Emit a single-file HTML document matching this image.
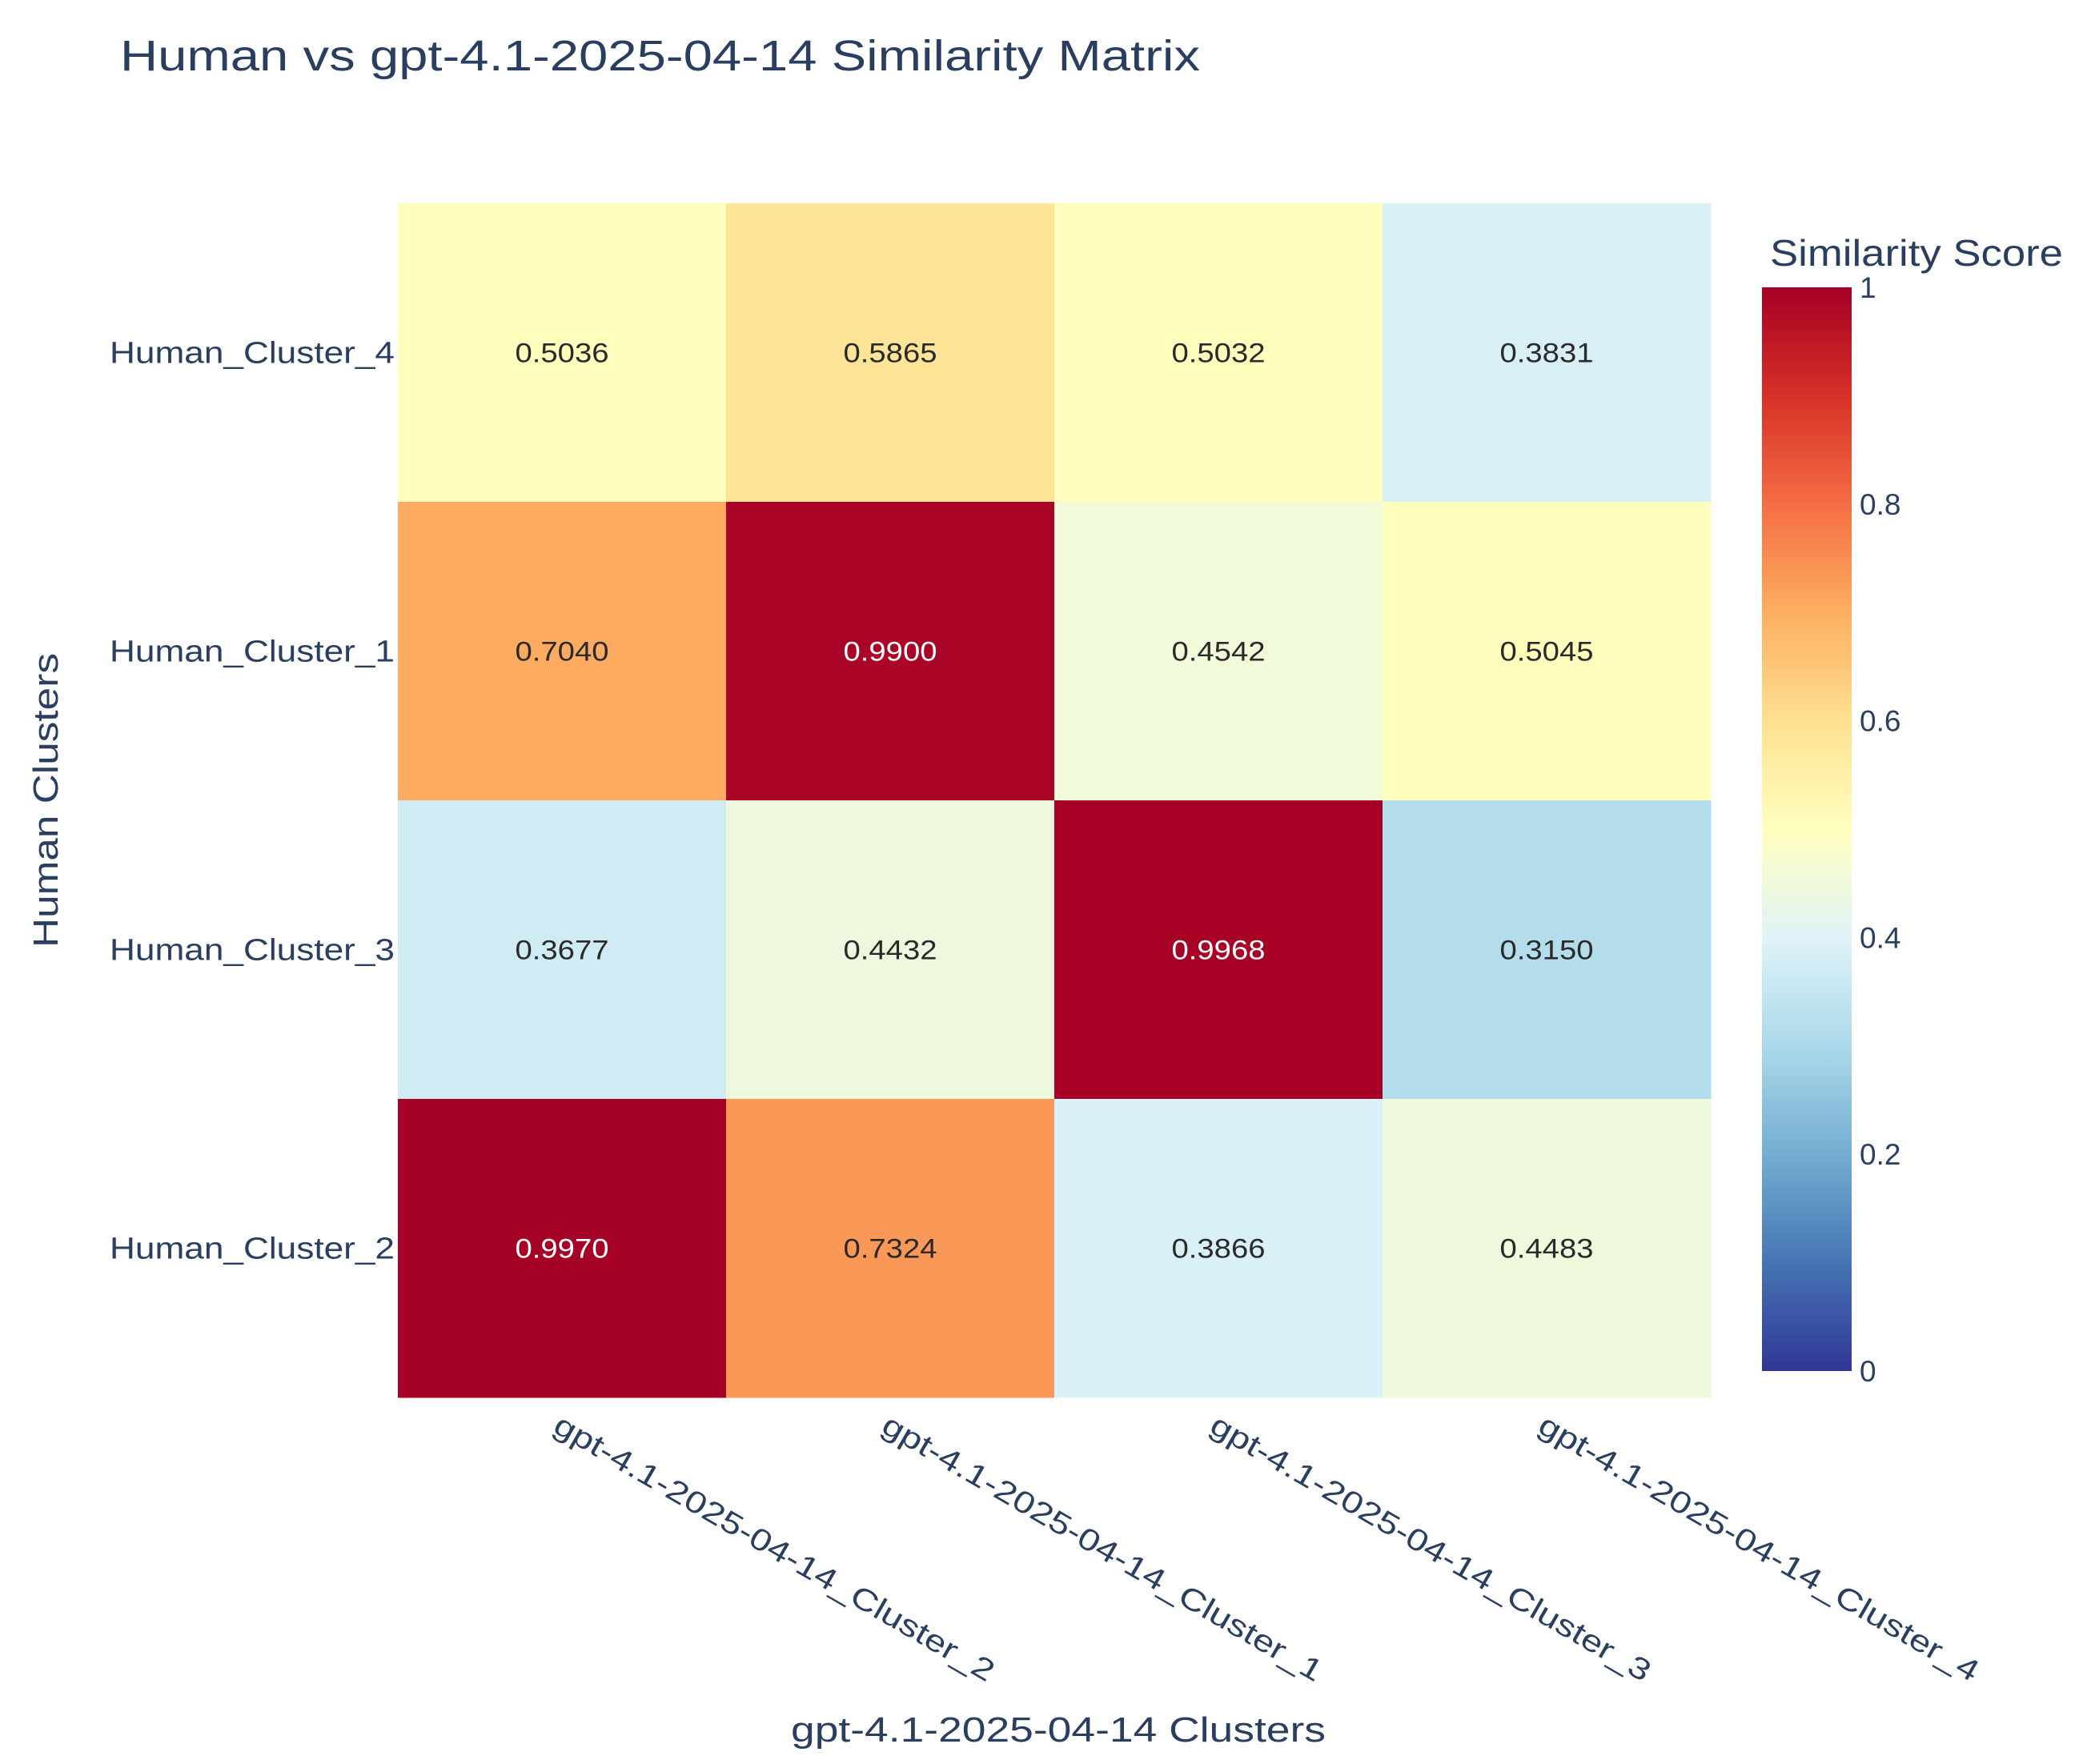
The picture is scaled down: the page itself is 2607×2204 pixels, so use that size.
<!DOCTYPE html>
<html><head><meta charset="utf-8"><style>
html,body{margin:0;padding:0;background:#fff}
svg{display:block;font-family:"Liberation Sans","DejaVu Sans",sans-serif}
</style></head><body>
<svg id="chart" width="2607" height="2204" viewBox="0 0 2607 2204">
<defs>
<linearGradient id="cbgrad" x1="0" y1="1" x2="0" y2="0"></linearGradient>
</defs>
<text x="150" y="88" font-size="54" fill="#2a3f5f" textLength="1349" lengthAdjust="spacingAndGlyphs">Human vs gpt-4.1-2025-04-14 Similarity Matrix</text>
<g id="cells"></g>
<g id="ylabels"></g>
<g id="xlabels"></g>
<text x="1322" y="2176" font-size="44" fill="#2a3f5f" text-anchor="middle" textLength="668" lengthAdjust="spacingAndGlyphs">gpt-4.1-2025-04-14 Clusters</text>
<text transform="translate(72,1000) rotate(-90)" font-size="44" fill="#2a3f5f" text-anchor="middle" textLength="368" lengthAdjust="spacingAndGlyphs">Human Clusters</text>
<text x="2211" y="332" font-size="46" fill="#2a3f5f" textLength="366" lengthAdjust="spacingAndGlyphs">Similarity Score</text>
<rect x="2201" y="359" width="112" height="1354" fill="url(#cbgrad)"/>
<g id="cbticks"></g>
</svg>
<script>
const xCategories = ["gpt-4.1-2025-04-14_Cluster_2","gpt-4.1-2025-04-14_Cluster_1","gpt-4.1-2025-04-14_Cluster_3","gpt-4.1-2025-04-14_Cluster_4"];
const yCategories = ["Human_Cluster_4","Human_Cluster_1","Human_Cluster_3","Human_Cluster_2"];
const row4 = [0.5036,0.5865,0.5032,0.3831];
const row1 = [0.7040,0.9900,0.4542,0.5045];
const row3 = [0.3677,0.4432,0.9968,0.3150];
const row2 = [0.9970,0.7324,0.3866,0.4483];
const values = [row4,row1,row3,row2];
const cbTicks = [0,0.2,0.4,0.6,0.8,1];
const cbTickLabels = ["0","0.2","0.4","0.6","0.8","1"];

const NS="http://www.w3.org/2000/svg";
const stops=["#313695","#4575b4","#74add1","#abd9e9","#e0f3f8","#ffffbf","#fee090","#fdae61","#f46d43","#d73027","#a50026"];
function hex(h){return [1,3,5].map(i=>parseInt(h.substr(i,2),16));}
function color(v){v=Math.max(0,Math.min(1,v));const p=v*10,i=Math.min(9,Math.floor(p)),t=p-i;const a=hex(stops[i]),b=hex(stops[i+1]);return "rgb("+a.map((c,k)=>Math.round(c+(b[k]-c)*t)).join(",")+")";}
const L=497,R=2137,T=254,B=1746;
const cw=(R-L)/xCategories.length, ch=(B-T)/yCategories.length;
const xScale=i=>L+i*cw, yScale=j=>T+j*ch;
const cbTop=359,cbBot=1713;
const cbScale=v=>cbBot-(cbBot-cbTop)*v;
function mk(tag,attrs,parent){const e=document.createElementNS(NS,tag);for(const k in attrs)e.setAttribute(k,attrs[k]);parent.appendChild(e);return e;}
const grad=document.getElementById("cbgrad");
stops.forEach((s,i)=>mk("stop",{offset:(i/10),"stop-color":s},grad));
const cells=document.getElementById("cells");
values.forEach((row,j)=>row.forEach((v,i)=>{
  const r=mk("rect",{x:xScale(i),y:yScale(j),width:cw+0.5,height:ch+0.5,fill:color(v)},cells);
  
  
  const t=mk("text",{x:xScale(i)+cw/2,y:yScale(j)+ch/2+12,"font-size":34,"text-anchor":"middle",textLength:117,lengthAdjust:"spacingAndGlyphs",fill:v>0.9?"#ffffff":"#2a2a2a"},cells);
  t.textContent=v.toFixed(4);
  
  
}));
const yl=document.getElementById("ylabels");
yCategories.forEach((c,j)=>{
  const t=mk("text",{x:L-4,y:yScale(j)+ch/2+13,"font-size":38,"text-anchor":"end",textLength:356,lengthAdjust:"spacingAndGlyphs",fill:"#2a3f5f"},yl);
  t.textContent=c;
  
  
});
const xl=document.getElementById("xlabels");
xCategories.forEach((c,i)=>{
  const cx=xScale(i)+cw/2;
  const t=mk("text",{transform:"translate("+(cx+2)+",1762) rotate(30)",y:30,"font-size":38,textLength:628,lengthAdjust:"spacingAndGlyphs",fill:"#2a3f5f"},xl);
  t.textContent=c;
  
  
});
const cbt=document.getElementById("cbticks");
cbTicks.forEach((v,k)=>{
  const t=mk("text",{x:2323,y:cbScale(v)+13,"font-size":37,fill:"#2a3f5f"},cbt);
  t.textContent=cbTickLabels[k];
  
  
});
</script>
</body></html>
